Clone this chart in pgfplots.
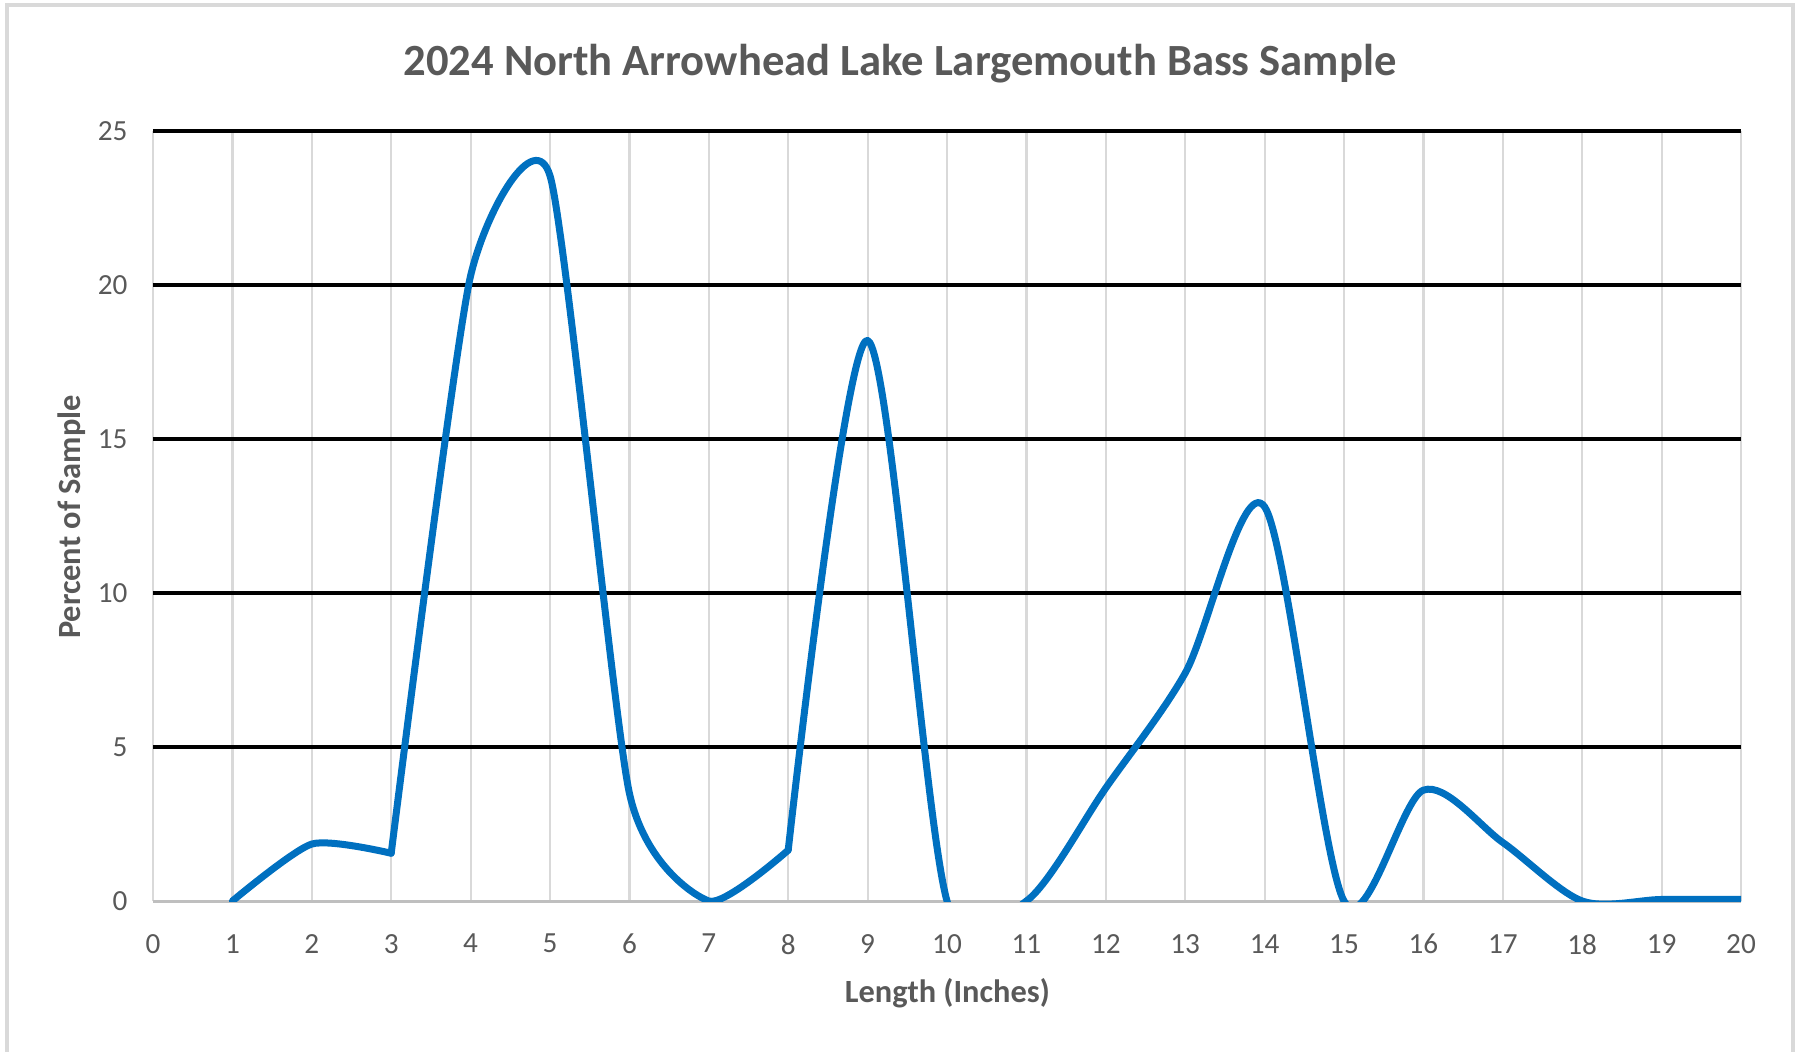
\documentclass[border=0pt]{standalone}
\usepackage{pgfplots}
\pgfplotsset{compat=1.18}
\usepackage{fontspec}
\setmainfont{Carlito}
\definecolor{exblue}{HTML}{0070C0}
\definecolor{txtgray}{HTML}{595959}
\definecolor{gridgray}{HTML}{D9D9D9}
\definecolor{axgray}{HTML}{BFBFBF}
\definecolor{bordergray}{HTML}{D9D9D9}
% Percent of sample by length; the series is drawn in pieces joined at 3 and 8
\pgfplotstableread{
x y
1 0
2 1.85
3 1.55
}\partA
\pgfplotstableread{
x y
3 1.55
4 20.3
5 23.55
6 3.5
7 0
8 1.65
}\partB
\pgfplotstableread{
x y
8 1.65
9 18.2
10 0
11 0
12 3.67
13 7.4
14 12.8
15 0
16 3.6
17 1.9
18 0
19 0.05
20 0.05
}\partC
\pgfplotsset{bassline/.style={exblue, line width=1.75pt, no markers, smooth, line cap=round, line join=round}}
\begin{document}
\begin{tikzpicture}
\useasboundingbox (-38.25pt,-37.5pt) rectangle (411.25pt,225.25pt);
\draw[bordergray, line width=0.8pt] (-36.5pt,-40pt) -- (-36.5pt,224pt) -- (410pt,224pt) -- (410pt,-40pt);
\begin{axis}[
  at={(0pt,0pt)}, anchor=south west,
  scale only axis, width=397pt, height=192.5pt,
  xmin=0, xmax=20, ymin=0, ymax=25,
  xtick={0,1,...,20}, ytick={5,10,...,25},
  extra y ticks={0}, extra y tick style={grid=none},
  xmajorgrids, ymajorgrids,
  x grid style={gridgray, line width=0.55pt},
  y grid style={black, line width=0.8pt},
  axis x line*=bottom, axis y line*=left,
  axis line style={-},
  x axis line style={axgray, line width=0.75pt},
  y axis line style={draw=none},
  major tick length=0pt,
  tick style={draw=none},
  /pgf/number format/assume math mode=true,
  ticklabel style={font=\fontsize{7.3}{8}\selectfont, text=txtgray},
  xticklabel style={anchor=north, inner sep=0pt, yshift=-8.1pt},
  yticklabel style={anchor=east, inner sep=0pt, xshift=-6.2pt},
  clip=true,
]
\addplot[bassline, tension=0.4] table[x=x,y=y] {\partA};
\addplot[bassline, tension=0.35] table[x=x,y=y] {\partB};
\addplot[bassline, tension=0.5] table[x=x,y=y] {\partC};
\end{axis}
\node[anchor=base, text=txtgray, font=\fontsize{11.15}{13}\selectfont\bfseries] at (186.75pt,206.25pt) {2024 North Arrowhead Lake Largemouth Bass Sample};
\node[anchor=base, text=txtgray, font=\fontsize{8.1}{9}\selectfont\bfseries] at (198.6pt,-25.4pt) {Length (Inches)};
\node[anchor=base, rotate=90, text=txtgray, font=\fontsize{8.1}{9}\selectfont\bfseries] at (-18.1pt,96pt) {Percent of Sample};
\end{tikzpicture}
\end{document}
